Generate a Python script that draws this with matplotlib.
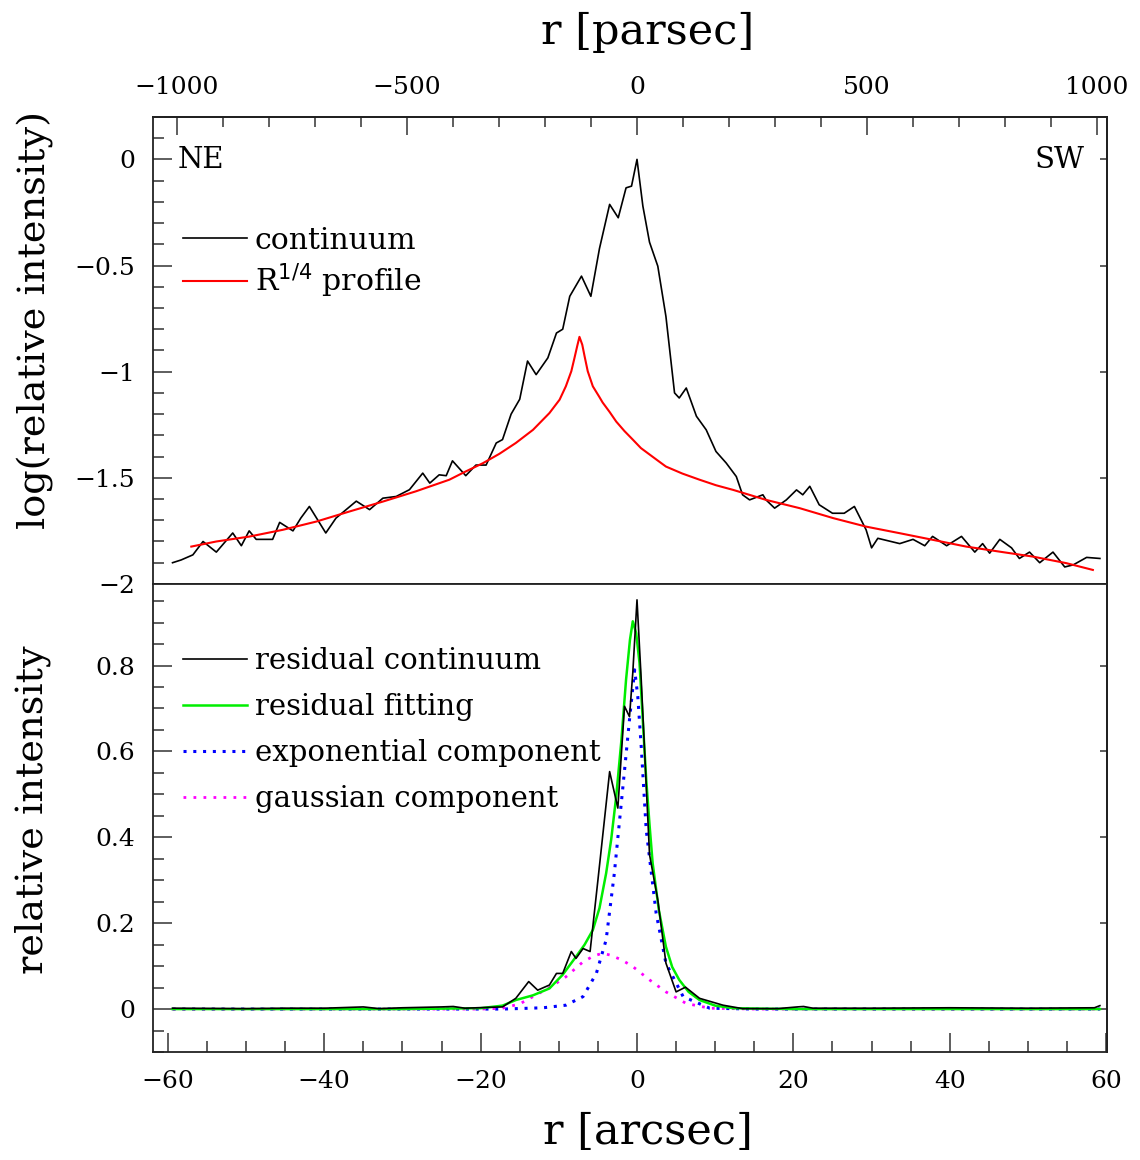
import numpy as np
import matplotlib
matplotlib.use('Agg')
import matplotlib.pyplot as plt
from matplotlib.ticker import FixedLocator, MultipleLocator, NullFormatter

plt.rcParams['font.family'] = 'DejaVu Serif'

# ---- top panel: log(relative intensity) vs r [arcsec]
cont_x = [-59.4, -58.3, -56.8, -55.5, -53.8, -51.7, -50.6, -49.6, -48.7, -46.6,
          -45.7, -44.0, -43.0, -41.9, -39.8, -38.5, -35.9, -34.2, -32.5, -30.8,
          -29.1, -27.4, -26.5, -25.3, -24.4, -23.6, -21.9, -20.6, -19.3, -18.0,
          -17.2, -16.1, -15.0, -14.0, -12.9, -11.4, -10.3, -9.5, -8.6, -7.1,
          -5.9, -4.8, -3.5, -2.4, -1.4, -0.7, 0.0, 0.75, 1.6, 2.66,
          3.7, 4.8, 5.4, 6.3, 7.6, 8.85, 10.1, 11.4, 12.7, 13.5,
          14.4, 16.1, 16.5, 17.6, 19.1, 20.4, 21.2, 22.1, 23.3, 25.0,
          26.5, 27.8, 29.3, 30.0, 30.8, 33.6, 35.3, 36.8, 37.8, 39.6,
          41.5, 43.2, 44.2, 45.1, 46.4, 47.9, 48.9, 50.2, 51.5, 53.2,
          54.7, 55.8, 57.5, 59.2]
cont_y = [-1.90, -1.887, -1.863, -1.80, -1.85, -1.76, -1.82, -1.75, -1.79, -1.79,
          -1.71, -1.75, -1.69, -1.635, -1.76, -1.69, -1.61, -1.65, -1.596, -1.588,
          -1.556, -1.478, -1.525, -1.486, -1.49, -1.42, -1.49, -1.44, -1.44, -1.336,
          -1.32, -1.20, -1.13, -0.95, -1.014, -0.935, -0.818, -0.80, -0.645, -0.55,
          -0.645, -0.42, -0.212, -0.275, -0.134, -0.126, 0.0, -0.22, -0.39, -0.503,
          -0.74, -1.10, -1.124, -1.077, -1.21, -1.274, -1.376, -1.43, -1.494, -1.58,
          -1.604, -1.58, -1.604, -1.643, -1.604, -1.557, -1.58, -1.54, -1.627, -1.667,
          -1.667, -1.635, -1.745, -1.83, -1.785, -1.81, -1.79, -1.82, -1.776, -1.82,
          -1.776, -1.85, -1.81, -1.855, -1.79, -1.83, -1.88, -1.85, -1.90, -1.85,
          -1.92, -1.91, -1.875, -1.88]

prof_x = [-57.0, -53.8, -49.6, -45.3, -41.0, -36.8, -32.5, -28.3, -24.0, -21.9,
          -19.7, -17.6, -15.5, -13.3, -11.2, -9.9, -9.1, -8.4, -8.0, -7.65,
          -7.36, -7.0, -6.7, -6.3, -5.65, -4.8, -4.4, -3.5, -2.66, -1.6,
          -0.54, 0.5, 1.6, 2.7, 3.7, 5.8, 8.0, 10.1, 12.3, 16.5,
          20.8, 25.1, 29.3, 33.6, 37.8, 42.1, 46.4, 50.6, 54.9, 58.3]
prof_y = [-1.824, -1.800, -1.777, -1.745, -1.706, -1.659, -1.612, -1.564, -1.509, -1.470,
          -1.431, -1.387, -1.336, -1.274, -1.195, -1.132, -1.069, -0.998, -0.936, -0.880,
          -0.836, -0.873, -0.928, -0.998, -1.069, -1.12, -1.145, -1.19, -1.235, -1.28,
          -1.32, -1.36, -1.39, -1.42, -1.447, -1.48, -1.509, -1.535, -1.557, -1.604,
          -1.643, -1.690, -1.730, -1.761, -1.792, -1.824, -1.848, -1.871, -1.902, -1.934]

# ---- bottom panel: relative intensity
res_x = [-59.4, -50.0, -45.0, -40.0, -35.0, -33.0, -30.0, -25.0, -23.5, -22.0,
         -19.0, -17.2, -15.5, -13.85, -12.7, -11.2, -10.3, -9.5, -8.4, -7.8,
         -6.9, -6.0, -5.0, -3.5, -2.45, -1.6, -0.96, -0.54, 0.0, 0.54,
         1.6, 2.66, 3.7, 5.0, 6.2, 8.0, 11.0, 13.5, 18.0, 20.5,
         21.3, 22.5, 30.0, 40.0, 50.0, 58.5, 59.2]
res_y = [0.002, 0.001, 0.002, 0.002, 0.005, 0.001, 0.003, 0.005, 0.006, 0.002,
         0.004, 0.005, 0.025, 0.064, 0.044, 0.056, 0.083, 0.083, 0.134, 0.118,
         0.141, 0.134, 0.30, 0.553, 0.468, 0.705, 0.681, 0.783, 0.953, 0.767,
         0.36, 0.254, 0.107, 0.040, 0.051, 0.025, 0.009, 0.001, 0.001, 0.005,
         0.006, 0.002, 0.002, 0.003, 0.002, 0.003, 0.008]

fit_x = [-59.4, -30.0, -20.0, -17.2, -15.5, -13.3, -11.2, -9.5, -7.8, -6.7,
         -5.65, -4.8, -3.95, -3.3, -2.66, -2.0, -1.4, -0.9, -0.54, -0.1,
         0.32, 0.75, 1.18, 1.6, 2.0, 2.8, 3.7, 4.5, 5.4, 6.6,
         8.0, 10.0, 12.3, 20.0, 59.2]
fit_y = [0.0, 0.0, 0.002, 0.008, 0.021, 0.032, 0.048, 0.080, 0.122, 0.150,
         0.184, 0.235, 0.316, 0.395, 0.495, 0.625, 0.767, 0.86, 0.903, 0.875,
         0.806, 0.67, 0.534, 0.43, 0.34, 0.23, 0.145, 0.098, 0.068, 0.040,
         0.021, 0.008, 0.002, 0.0, 0.0]

exp_x = [-59.4, -20.0, -17.2, -12.0, -9.1, -6.9, -5.2, -3.95, -2.9, -1.8,
         -0.96, -0.3, 0.1, 0.54, 1.18, 2.45, 3.7, 5.9, 9.3, 15.0, 59.2]
exp_y = [0.0, 0.0, 0.0, 0.003, 0.009, 0.029, 0.083, 0.161, 0.316, 0.518,
         0.674, 0.79, 0.728, 0.611, 0.417, 0.223, 0.107, 0.029, 0.002, 0.0, 0.0]

gau_x = [-59.4, -20.0, -17.2, -15.0, -13.3, -11.0, -9.1, -6.9, -5.5, -4.4,
         -3.5, -2.0, -0.54, 1.6, 3.7, 6.3, 9.3, 15.0, 59.2]
gau_y = [0.0, 0.0, 0.002, 0.012, 0.029, 0.052, 0.075, 0.110, 0.124, 0.130,
         0.126, 0.115, 0.099, 0.068, 0.040, 0.013, 0.002, 0.0, 0.0]

x_ticks = [-60, -40, -20, 0, 20, 40, 60]
x_labels = ['\u221260', '\u221240', '\u221220', '0', '20', '40', '60']
pc_ticks = [-1000, -500, 0, 500, 1000]
pc_labels = ['\u22121000', '\u2212500', '0', '500', '1000']
top_yticks = [0, -0.5, -1, -1.5, -2]
top_ylabels = ['0', '\u22120.5', '\u22121', '\u22121.5', '\u22122']
bot_yticks = [0, 0.2, 0.4, 0.6, 0.8]
bot_ylabels = ['0', '0.2', '0.4', '0.6', '0.8']
pc_per_arcsec = 17.0

fig = plt.figure(figsize=(11.4, 11.6), dpi=100)
ax1 = fig.add_axes([0.1342, 0.4966, 0.8368, 0.4026])
ax2 = fig.add_axes([0.1342, 0.0931, 0.8368, 0.4035])

ax1.plot(cont_x, cont_y, color='black', lw=1.2, label='continuum')
ax1.plot(prof_x, prof_y, color='red', lw=1.5, label='R$^{1/4}$ profile')

ax2.plot(res_x, res_y, color='black', lw=1.2, label='residual continuum', zorder=4)
ax2.plot(fit_x, fit_y, color='#00ee00', lw=1.8, label='residual fitting', zorder=3)
ax2.plot(exp_x, exp_y, color='blue', lw=2.2, ls=(0, (1, 2.2)), label='exponential component', zorder=2)
ax2.plot(gau_x, gau_y, color='magenta', lw=2.0, ls=(0, (1, 2.6)), label='gaussian component', zorder=2)

for ax in (ax1, ax2):
    ax.set_xlim(-61.9, 60.1)
    for s in ax.spines.values():
        s.set_linewidth(1.3)
        s.set_color('#222222')
    ax.tick_params(which='both', direction='in', right=False, top=False,
                   labelsize=18, pad=13, width=1.1, color='#333333')
    ax.tick_params(which='major', length=14)
    ax.tick_params(which='minor', length=8)

ax1.set_ylim(-2, 0.2)
ax1.yaxis.set_major_locator(FixedLocator(top_yticks))
ax1.set_yticklabels(top_ylabels)
ax1.yaxis.set_minor_locator(MultipleLocator(0.1))
ax1.tick_params(axis='x', which='both', bottom=False, labelbottom=False)

ax2.set_ylim(-0.1, 0.99)
ax2.yaxis.set_major_locator(FixedLocator(bot_yticks))
ax2.set_yticklabels(bot_ylabels)
ax2.yaxis.set_minor_locator(MultipleLocator(0.05))
ax2.xaxis.set_major_locator(FixedLocator(x_ticks))
ax2.set_xticklabels(x_labels)
ax2.xaxis.set_minor_locator(MultipleLocator(5))

# parsec axis on top
sec = ax1.secondary_xaxis('top', functions=(lambda a: a * pc_per_arcsec,
                                            lambda p: p / pc_per_arcsec))
sec.xaxis.set_major_locator(FixedLocator(pc_ticks))
sec.set_xticklabels(pc_labels)
sec.xaxis.set_minor_locator(MultipleLocator(100))
sec.tick_params(which='both', direction='in', labelsize=18, pad=13, width=1.1, color='#333333')
sec.tick_params(which='major', length=13)
sec.tick_params(which='minor', length=7)
sec.spines['top'].set_linewidth(1.3)

# short right-hand ticks
for ax, ticks in ((ax1, top_yticks), (ax2, bot_yticks)):
    r = ax.secondary_yaxis('right')
    r.yaxis.set_major_locator(FixedLocator(ticks))
    r.yaxis.set_major_formatter(NullFormatter())
    r.yaxis.set_minor_locator(FixedLocator([]))
    r.tick_params(which='major', direction='in', length=5, width=1.1, color='#333333')
    r.spines['right'].set_linewidth(1.3)

ax1.text(0.026, 0.908, 'NE', transform=ax1.transAxes, fontsize=21, va='center', ha='left')
ax1.text(0.977, 0.908, 'SW', transform=ax1.transAxes, fontsize=21, va='center', ha='right')

ax1.set_ylabel('log(relative intensity)', fontsize=27.5, va='center')
ax1.yaxis.set_label_coords(-0.123, 0.565)
ax2.set_ylabel('relative intensity', fontsize=27.5, va='center')
ax2.yaxis.set_label_coords(-0.126, 0.517)
ax2.set_xlabel('r [arcsec]', fontsize=31, va='center')
ax2.xaxis.set_label_coords(0.519, -0.171)
ax1.text(0.519, 1.182, 'r [parsec]', transform=ax1.transAxes, fontsize=31,
         ha='center', va='center')

ax1.legend(loc='upper left', bbox_to_anchor=(0.031, 0.765), frameon=False, fontsize=21.5,
           handlelength=2.15, handletextpad=0.27, labelspacing=0.23, borderpad=0, borderaxespad=0)
ax2.legend(loc='upper left', bbox_to_anchor=(0.031, 0.865), frameon=False, fontsize=21,
           handlelength=2.2, handletextpad=0.28, labelspacing=0.62, borderpad=0, borderaxespad=0)

fig.savefig('out.png', dpi=100)
